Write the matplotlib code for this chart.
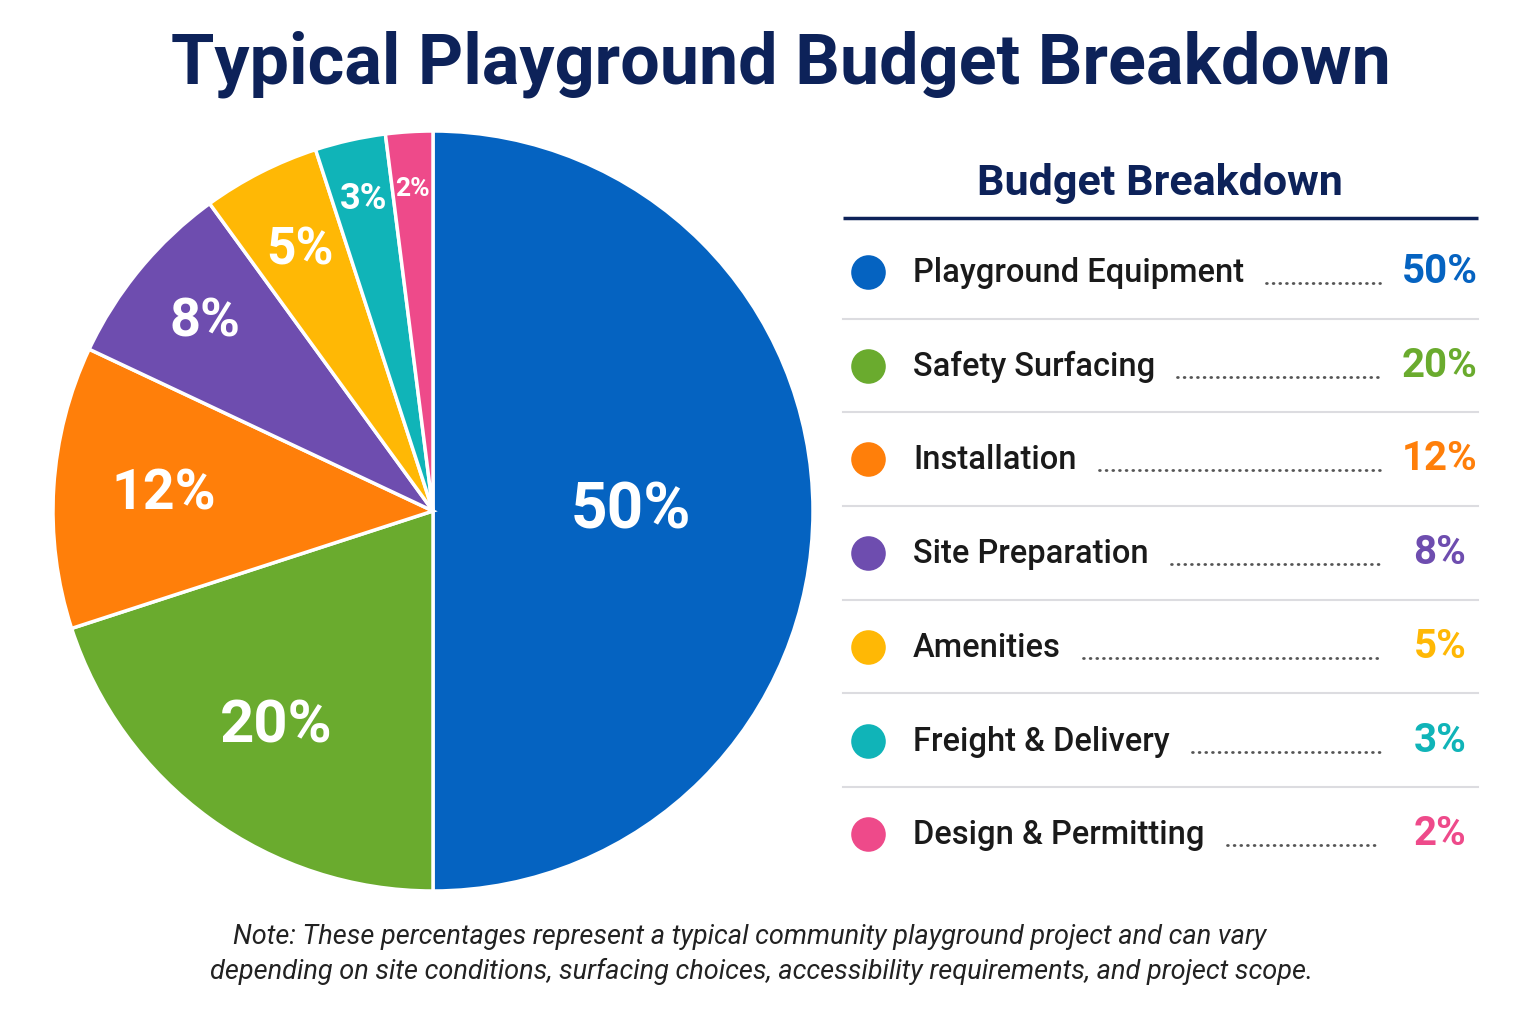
import numpy as np
import matplotlib
matplotlib.use("Agg")
from matplotlib import pyplot as plt

# data
categories = ["Playground Equipment", "Safety Surfacing", "Installation",
              "Site Preparation", "Amenities", "Freight & Delivery",
              "Design & Permitting"]
shares = [50, 20, 12, 8, 5, 3, 2]
colors = ["#0563C1", "#6AAB2E", "#FF7F0A", "#6E4DAF", "#FFB805",
          "#10B4B8", "#EE4A8A"]

# label placement inside wedges (fraction of radius) and font size
label_r = [0.52, 0.70, 0.71, 0.78, 0.77, 0.84, 0.85]
label_fs = [46, 43, 40, 39, 37, 26, 19]

navy = "#0D2259"
plt.rcParams['font.family'] = ['Roboto', 'DejaVu Sans']

W, H = 1536, 1024
fig = plt.figure(figsize=(W / 100, H / 100), dpi=100)
fig.patch.set_facecolor("white")

# pie axes, centre ~ (433, 511) px, radius ~ 380 px
cx, cy, R = 433, 511, 380
ax = fig.add_axes([(cx - R) / W, (H - cy - R) / H, 2 * R / W, 2 * R / H])
wedges, _ = ax.pie(shares, colors=colors, startangle=90, counterclock=False,
                   wedgeprops=dict(edgecolor="white", linewidth=2.5))
ax.set_xlim(-1, 1)
ax.set_ylim(-1, 1)
ax.set_aspect("equal")

for w, v, r, fs in zip(wedges, shares, label_r, label_fs):
    ang = np.deg2rad((w.theta1 + w.theta2) / 2)
    ax.text(r * np.cos(ang), r * np.sin(ang), f"{v}%", ha="center",
            va="center", color="white", fontsize=fs, fontweight="bold")

# overlay in pixel coords for title / legend / note
ov = fig.add_axes([0, 0, 1, 1])
ov.set_xlim(0, W)
ov.set_ylim(H, 0)
ov.axis("off")

ov.text(781, 64, "Typical Playground Budget Breakdown", ha="center",
        va="center", fontsize=50.5, fontweight="bold", color=navy)

ov.text(1160, 183, "Budget Breakdown", ha="center", va="center",
        fontsize=31, fontweight="bold", color=navy)
ov.plot([843, 1478], [218, 218], color=navy, lw=2.5, solid_capstyle="butt")

row_y0, row_dy = 272, 93.7
labels = []
for i, (name, v, c) in enumerate(zip(categories, shares, colors)):
    y = row_y0 + i * row_dy
    ov.scatter([868], [y], s=620, color=c, zorder=3, linewidths=0)
    t = ov.text(913, y + 1, name, ha="left", va="center", fontsize=23.5,
                fontweight="medium", color="#1A1A1A")
    labels.append((t, y))
    ov.text(1440, y, f"{v}%", ha="center", va="center", fontsize=29,
            fontweight="bold", color=c)
    if i < len(categories) - 1:
        ov.plot([843, 1478], [y + 46.5, y + 46.5], color="#DCDCE0", lw=1.5)

# dot leaders after each label
fig.canvas.draw()
inv = ov.transData.inverted()
for t, y in labels:
    bb = t.get_window_extent()
    x_end = inv.transform((bb.x1, bb.y0))[0]
    ov.plot([x_end + 22, 1380], [y + 11, y + 11], color="#555555", lw=2.0,
            linestyle=(0, (0.3, 2.1)), dash_capstyle="round")

ov.text(750, 937, "Note: These percentages represent a typical community "
        "playground project and can vary", ha="center", va="center",
        fontsize=19.5, style="italic", color="#222222")
ov.text(762, 971, "depending on site conditions, surfacing choices, "
        "accessibility requirements, and project scope.", ha="center",
        va="center", fontsize=19.5, style="italic", color="#222222")

fig.savefig("out.png", dpi=100, facecolor="white")
